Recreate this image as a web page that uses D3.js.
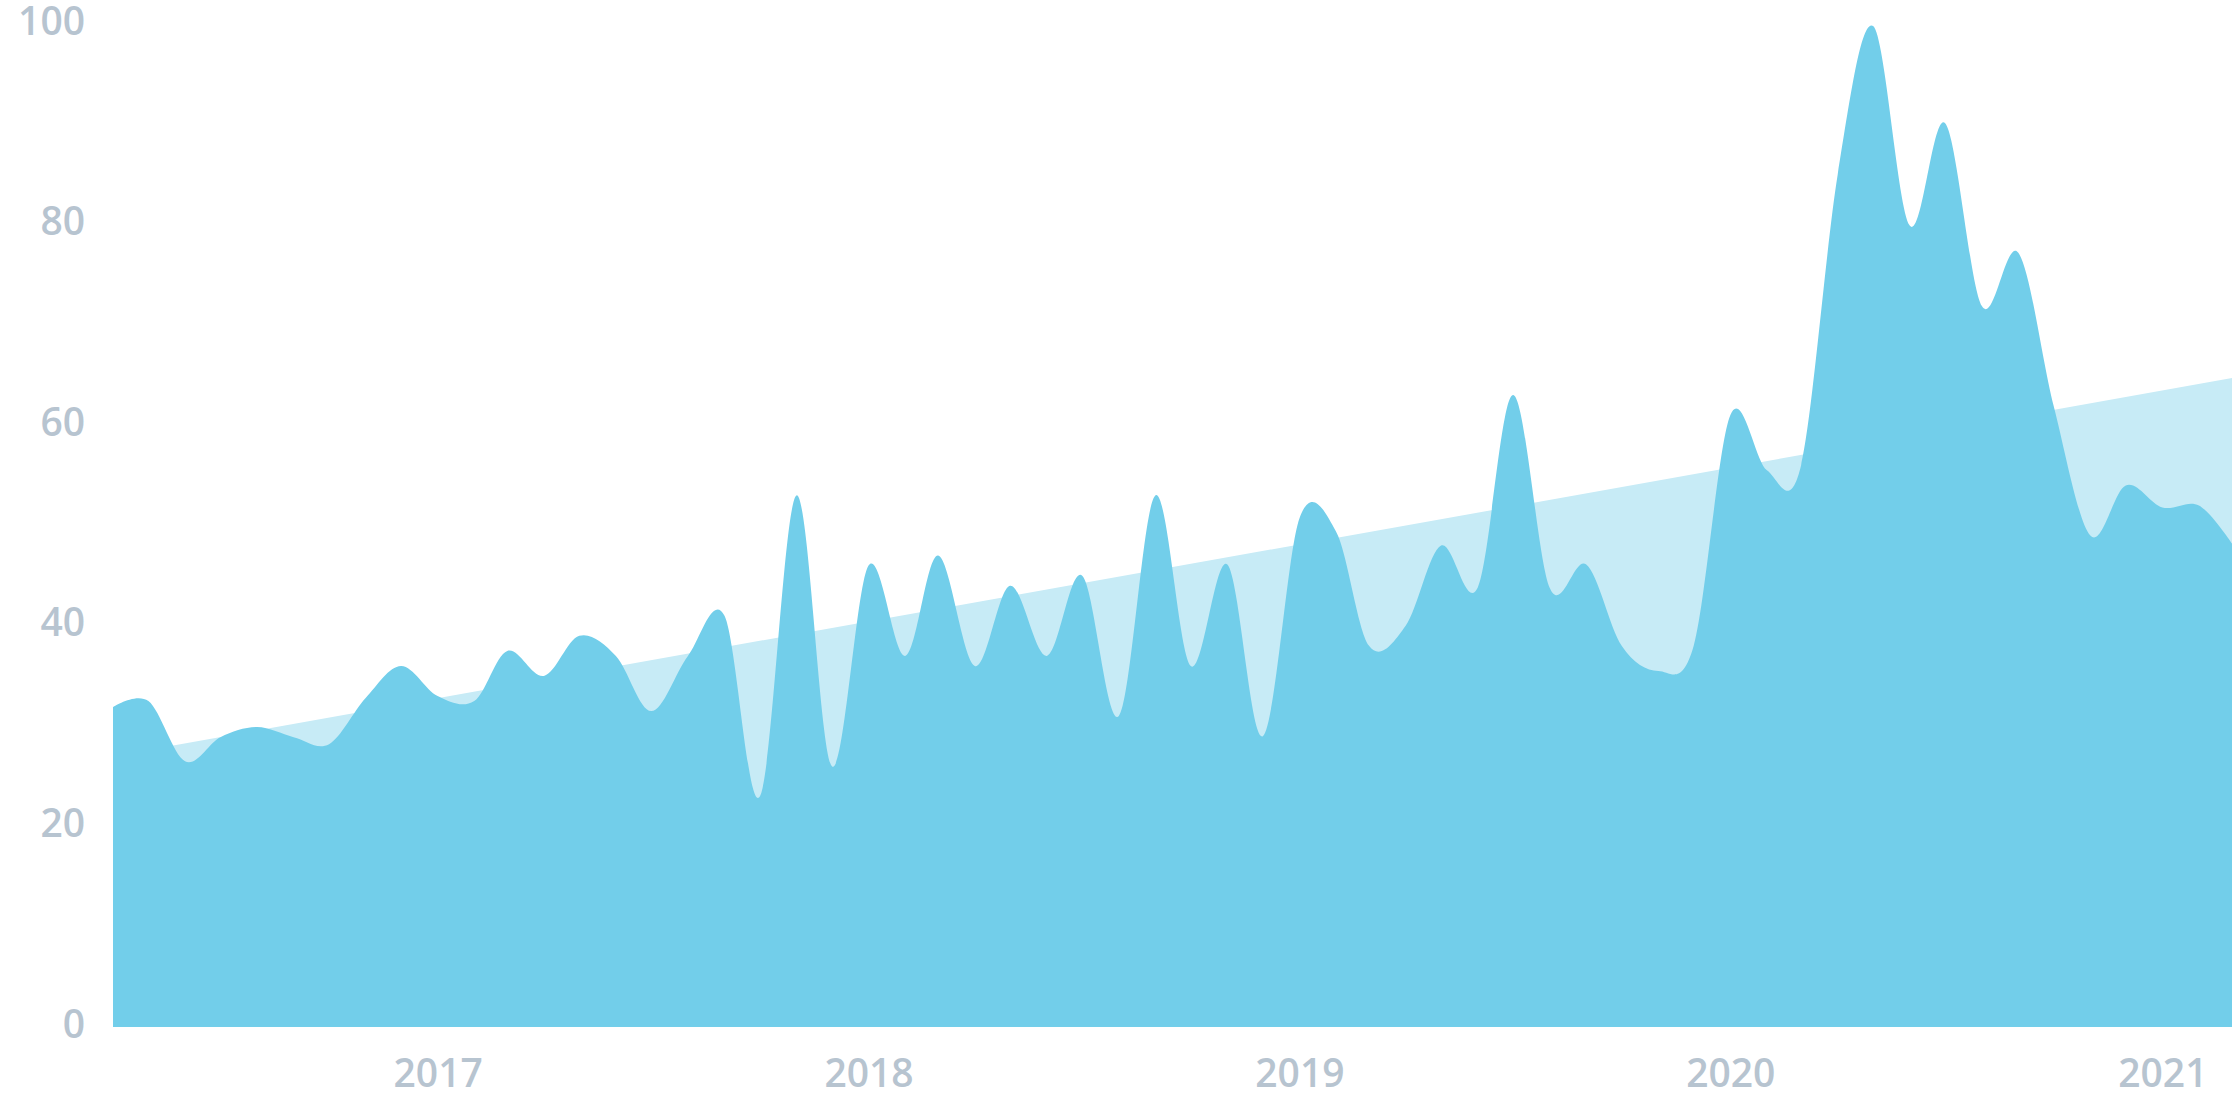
<!DOCTYPE html>
<html><head><meta charset="utf-8">
<script src="https://cdn.jsdelivr.net/npm/d3@7"></script>
<style>html,body{margin:0;padding:0;background:#fff;} svg{display:block}</style>
</head><body>
<svg id="chart" width="2240" height="1120"></svg>
<script>
const months = [
  "2016-04","2016-05","2016-06","2016-07","2016-08","2016-09","2016-10","2016-11","2016-12",
  "2017-01","2017-02","2017-03","2017-04","2017-05","2017-06","2017-07","2017-08","2017-09","2017-10","2017-11","2017-12",
  "2018-01","2018-02","2018-03","2018-04","2018-05","2018-06","2018-07","2018-08","2018-09","2018-10","2018-11","2018-12",
  "2019-01","2019-02","2019-03","2019-04","2019-05","2019-06","2019-07","2019-08","2019-09","2019-10","2019-11","2019-12",
  "2020-01","2020-02","2020-03","2020-04","2020-05","2020-06","2020-07","2020-08","2020-09","2020-10","2020-11","2020-12",
  "2021-01","2021-02","2021-03"
];
const values = [
  31.9, 32.5, 26.5, 28.9, 29.9, 28.9, 28.2, 32.8, 36.0,
  33.0, 32.5, 37.5, 35.0, 39.0, 37.0, 31.5, 37.0, 41.0, 23.0, 53.0, 26.0,
  46.0, 37.0, 47.0, 36.0, 44.0, 37.0, 45.0, 31.0, 53.0, 36.0, 46.1, 29.0,
  50.7, 49.4, 38.0, 40.0, 48.0, 43.8, 63.0, 43.8, 46.1, 38.0, 35.5, 38.0,
  61.0, 55.5, 56.0, 85.0, 99.8, 79.9, 90.1, 71.9, 77.2, 61.9, 49.0, 54.0,
  51.8, 52.0, 48.2
];
const trendMonths = ["2016-04", "2021-03"];
const trendValues = [27.0, 64.7];
const yTicks = [0, 20, 40, 60, 80, 100];
const xTicks = ["2017-01", "2018-01", "2019-01", "2020-01", "2021-01"];

const parse = d3.timeParse("%Y-%m");
const svg = d3.select("#chart");
const x = d3.scaleTime().domain([parse(months[0]), parse(months[months.length - 1])]).range([113, 2232]);
const y = d3.scaleLinear().domain([0, 100]).range([1027, 24]);

const data = months.map((m, i) => ({ date: parse(m), value: values[i] }));
const trend = trendMonths.map((m, i) => ({ date: parse(m), value: trendValues[i] }));

svg.append("path")
  .datum(trend)
  .attr("fill", "#c7ebf6")
  .attr("d", d3.area().x(d => x(d.date)).y0(y(0)).y1(d => y(d.value)));

svg.append("path")
  .datum(data)
  .attr("fill", "#72ceea")
  .attr("d", d3.area().curve(d3.curveCardinal.tension(0)).x(d => x(d.date)).y0(y(0)).y1(d => y(d.value)));

const labelColor = "#b7c4d0";
const font = "'Open Sans', sans-serif";

const yAxis = svg.append("g")
  .attr("transform", "translate(113,0)")
  .call(d3.axisLeft(y).tickValues(yTicks).tickSize(0).tickPadding(28).tickFormat(d3.format("d")));
yAxis.select(".domain").remove();
yAxis.selectAll("text")
  .attr("dy", "10px")
  .attr("fill", labelColor)
  .style("font-family", font)
  .style("font-size", "39px")
  .style("font-weight", 600);

const xAxis = svg.append("g")
  .attr("transform", `translate(0,${y(0)})`)
  .call(d3.axisBottom(x).tickValues(xTicks.map(parse)).tickSize(0).tickFormat(d3.timeFormat("%Y")));
xAxis.select(".domain").remove();
xAxis.selectAll("text")
  .attr("y", 60)
  .attr("dy", 0)
  .attr("fill", labelColor)
  .style("font-family", font)
  .style("font-size", "39px")
  .style("font-weight", 600);
</script>
</body></html>
